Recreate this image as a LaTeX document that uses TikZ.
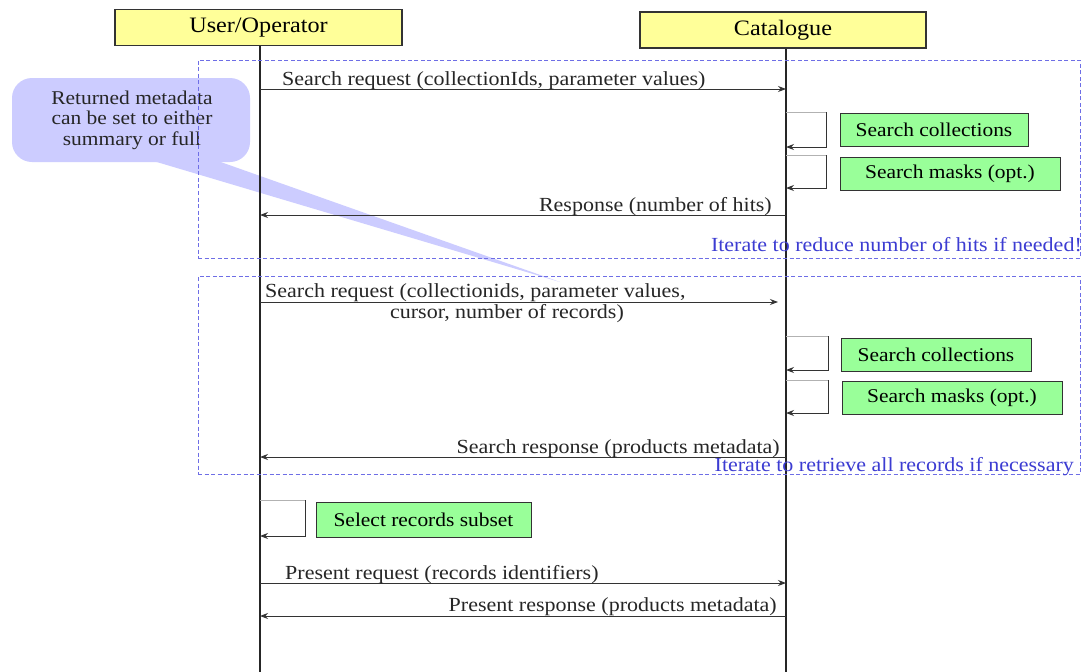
\documentclass[tikz,border=0pt]{standalone}
\usepackage{fontspec}
\setmainfont[FakeStretch=1.1]{Liberation Serif}
\usetikzlibrary{arrows.meta}
\definecolor{hdrfill}{RGB}{255,255,153}
\definecolor{actfill}{RGB}{153,255,153}
\definecolor{notefill}{RGB}{204,204,255}
\definecolor{loopblue}{RGB}{110,110,230}
\definecolor{looptext}{RGB}{60,60,210}
\tikzset{
  hdr/.style={draw=black!80, line width=1.2pt, fill=hdrfill, minimum height=36pt, inner sep=0pt, font=\fontsize{22}{24}\selectfont},
  act/.style={draw=black!80, line width=1pt, fill=actfill, minimum height=33pt, inner sep=0pt, font=\fontsize{19.5}{22}\selectfont},
  life/.style={draw=black!85, line width=1.2pt},
  msg/.style={draw=black!80, line width=1pt, -{Stealth[length=8pt,width=6pt]}},
  selfmsg/.style={draw=black!80, line width=1pt, -{Stealth[length=8pt,width=6pt]}},
  lbl/.style={font=\fontsize{20}{22}\selectfont, inner sep=0pt, text=black!85},
  loopbox/.style={draw=loopblue, line width=1pt, dash pattern=on 4pt off 2.5pt},
  looplbl/.style={font=\fontsize{20}{22}\selectfont, text=looptext, inner sep=0pt},
  note/.style={font=\fontsize{19.5}{20.5}\selectfont, align=center, inner sep=0pt, text=black!85}
}
\begin{document}
\begin{tikzpicture}[x=1pt,y=-1pt]
\useasboundingbox (0,0) rectangle (1082,672);
\fill[white] (0,0) rectangle (1082,672);

% callout
\fill[notefill] (150,160) -- (560,282) -- (215,160) -- cycle;
\fill[notefill, rounded corners=20pt] (12,78) rectangle (250,162);
\node[note] (notetext) at (132,120) {Returned metadata\\can be set to either\\summary or full};

% headers
\node[hdr, minimum width=287pt] (user) at (258.5,27.5) {User/Operator};
\node[hdr, minimum width=286pt] (cat) at (783,30) {Catalogue};

% lifelines
\coordinate (userend) at (260,672);
\coordinate (catend) at (786,672);
\draw[life] (user.south -| userend) -- (userend);
\draw[life] (cat.south -| catend) -- (catend);

% loop boxes
\node[loopbox, minimum width=882pt, minimum height=198pt, inner sep=0pt] (loop1) at (639,159) {};
\node[loopbox, minimum width=882pt, minimum height=198pt, inner sep=0pt] (loop2) at (639,375) {};
\node[looplbl, anchor=base east] (loop1lbl) at (1082,251) {Iterate to reduce number of hits if needed!};
\node[looplbl, anchor=base east] (loop2lbl) at (1074,471) {Iterate to retrieve all records if necessary};

% message 1
\coordinate (m1a) at (260,89);
\coordinate (m1b) at (786,89);
\draw[msg] (m1a) -- (m1b);
\node[lbl, anchor=base west] (m1lbl) at (282,85) {Search request (collectionIds, parameter values)};

% self calls catalogue 1
\coordinate (s1a) at (786,112);
\coordinate (s1b) at (826,112);
\coordinate (s1c) at (826,147);
\coordinate (s1d) at (786,147);
\draw[gray!60, line width=1pt] (s1a) -- (s1b);
\draw[selfmsg] (s1b) -- (s1c) -- (s1d);
\node[act, minimum width=188pt] (sc1) at (934,129.5) {Search collections};

\coordinate (s2a) at (786,155);
\coordinate (s2b) at (826,155);
\coordinate (s2c) at (826,188);
\coordinate (s2d) at (786,188);
\draw[gray!60, line width=1pt] (s2a) -- (s2b);
\draw[selfmsg] (s2b) -- (s2c) -- (s2d);
\node[act, minimum width=220pt] (sm1) at (950,173.5) {Search masks (opt.)};

% response 1
\coordinate (r1a) at (786,215);
\coordinate (r1b) at (260,215);
\draw[msg] (r1a) -- (r1b);
\node[lbl, anchor=base east] (r1lbl) at (772,211) {Response (number of hits)};

% message 2
\coordinate (m2a) at (260,302);
\coordinate (m2b) at (778,302);
\draw[msg] (m2a) -- (m2b);
\node[lbl, anchor=base west] (m2lbl1) at (265,297) {Search request (collectionids, parameter values,};
\node[lbl, anchor=base] (m2lbl2) at (507,318) {cursor, number of records)};

% self calls catalogue 2
\coordinate (s3a) at (786,336);
\coordinate (s3b) at (828,336);
\coordinate (s3c) at (828,370);
\coordinate (s3d) at (786,370);
\draw[gray!60, line width=1pt] (s3a) -- (s3b);
\draw[selfmsg] (s3b) -- (s3c) -- (s3d);
\node[act, minimum width=190pt] (sc2) at (936,354.5) {Search collections};

\coordinate (s4a) at (786,380);
\coordinate (s4b) at (828,380);
\coordinate (s4c) at (828,413);
\coordinate (s4d) at (786,413);
\draw[gray!60, line width=1pt] (s4a) -- (s4b);
\draw[selfmsg] (s4b) -- (s4c) -- (s4d);
\node[act, minimum width=220pt] (sm2) at (952,397.5) {Search masks (opt.)};

% response 2
\coordinate (r2a) at (786,457);
\coordinate (r2b) at (260,457);
\draw[msg] (r2a) -- (r2b);
\node[lbl, anchor=base east] (r2lbl) at (780,453) {Search response (products metadata)};

% self call user
\coordinate (u1a) at (260,500);
\coordinate (u1b) at (305,500);
\coordinate (u1c) at (305,536);
\coordinate (u1d) at (260,536);
\draw[gray!60, line width=1pt] (u1a) -- (u1b);
\draw[selfmsg] (u1b) -- (u1c) -- (u1d);
\node[act, minimum width=215pt, minimum height=35pt] (sel) at (423.5,519.5) {Select records subset};

% present
\coordinate (p1a) at (260,583);
\coordinate (p1b) at (786,583);
\draw[msg] (p1a) -- (p1b);
\node[lbl, anchor=base west] (p1lbl) at (285,579) {Present request (records identifiers)};

\coordinate (p2a) at (786,616);
\coordinate (p2b) at (260,616);
\draw[msg] (p2a) -- (p2b);
\node[lbl, anchor=base east] (p2lbl) at (777,611) {Present response (products metadata)};
\end{tikzpicture}
\end{document}
